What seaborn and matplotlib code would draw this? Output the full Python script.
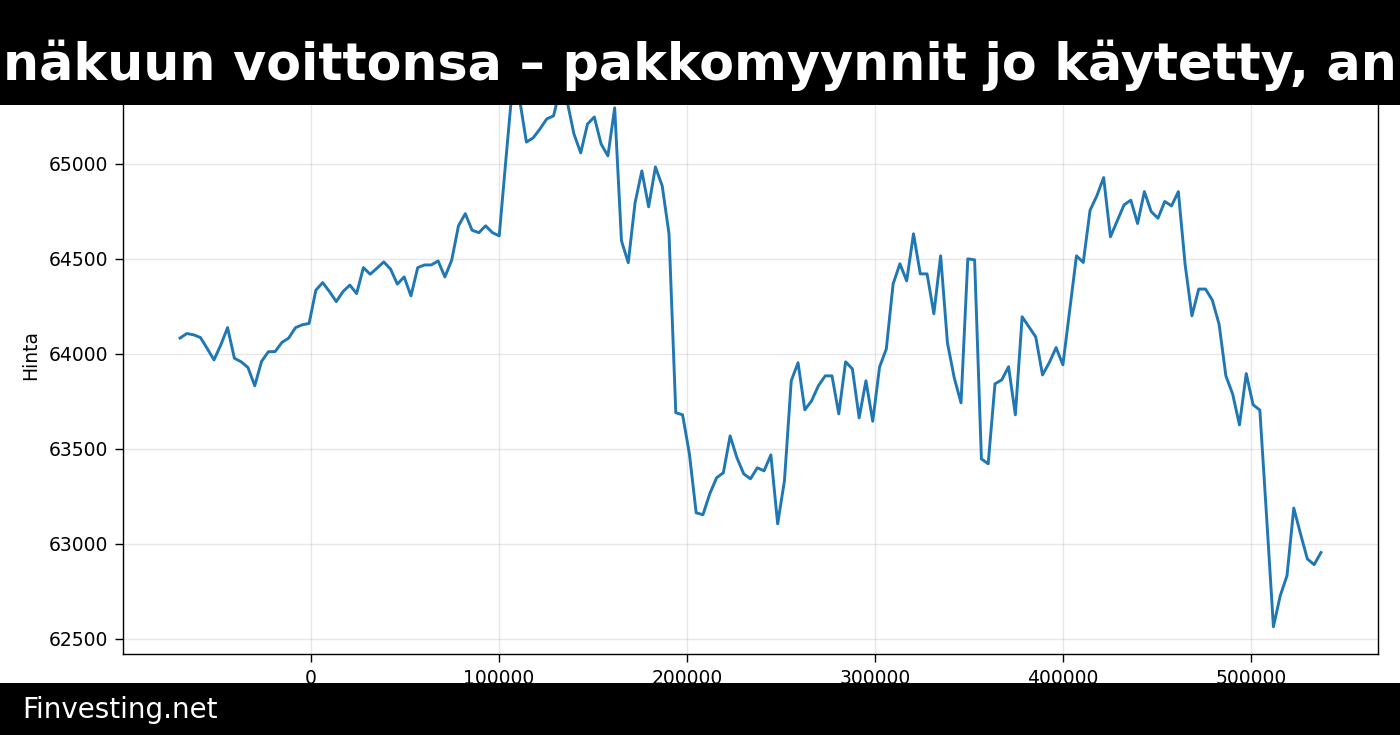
import numpy as np
import pandas as pd
import matplotlib
matplotlib.use("Agg")
import matplotlib.pyplot as plt
from matplotlib.patches import Rectangle
import seaborn as sns

# ---- data ----
x_start = -69400
x_step = 3610
prices = [
    64083, 64107, 64100, 64086, 64028, 63968, 64047, 64138, 63977, 63958,
    63928, 63832, 63960, 64011, 64012, 64060, 64083, 64138, 64153, 64160,
    64335, 64375, 64328, 64275, 64328, 64362, 64317, 64454, 64419, 64451,
    64484, 64446, 64367, 64405, 64305, 64454, 64468, 64468, 64489, 64405,
    64493, 64674, 64738, 64651, 64638, 64674, 64638, 64621, 65030, 65430,
    65340, 65115, 65137, 65184, 65237, 65253, 65400, 65330, 65158, 65058,
    65210, 65247, 65105, 65042, 65295, 64595, 64480, 64795, 64963, 64774,
    64984, 64884, 64632, 63690, 63679, 63474, 63163, 63153, 63263, 63347,
    63374, 63568, 63453, 63368, 63342, 63400, 63384, 63468, 63105, 63332,
    63858, 63953, 63705, 63753, 63832, 63884, 63884, 63684, 63958, 63921,
    63663, 63858, 63645, 63930, 64026, 64368, 64474, 64384, 64632, 64421,
    64421, 64211, 64516, 64058, 63874, 63742, 64500, 64495, 63447, 63421,
    63842, 63863, 63932, 63679, 64195, 64142, 64089, 63889, 63954, 64033,
    63942, 64230, 64516, 64481, 64756, 64832, 64928, 64616, 64700, 64784,
    64809, 64686, 64854, 64749, 64714, 64802, 64779, 64854, 64470, 64200,
    64341, 64341, 64283, 64156, 63884, 63788, 63626, 63896, 63732, 63704,
    63140, 62563, 62726, 62832, 63188, 63051, 62920, 62890, 62954,
]
xs = x_start + x_step * np.arange(len(prices))

y_ticks = [62500, 63000, 63500, 64000, 64500, 65000]
title_text = "näkuun voittonsa – pakkomyynnit jo käytetty, an"
footer_text = "Finvesting.net"
y_label = "Hinta"

df = pd.DataFrame({"x": xs, "Hinta": prices})

# ---- figure ----
plt.rcParams["font.family"] = ["DejaVu Sans"]
W, H = 1400, 735
fig = plt.figure(figsize=(W / 100, H / 100), dpi=100)
ax = fig.add_axes([123 / W, 81 / H, 1255 / W, 599 / H])

sns.lineplot(data=df, x="x", y="Hinta", ax=ax, color="#1f77b4", linewidth=2.1)

ax.set_yticks(y_ticks)
ax.grid(True, color="#b0b0b0", alpha=0.3, linewidth=1.0)
ax.set_axisbelow(True)
ax.set_xlabel("")
ax.set_ylabel(y_label, fontsize=13.5, labelpad=6)
ax.tick_params(axis="both", labelsize=13.5, length=5.5, width=1, pad=5)
for s in ax.spines.values():
    s.set_color("black")
    s.set_linewidth(1.0)

# top banner
fig.add_artist(Rectangle((0, 1 - 105 / H), 1, 105 / H, transform=fig.transFigure,
                         facecolor="black", edgecolor="none", zorder=10))
fig.text(3 / W, 1 - 80 / H, title_text, color="white", fontsize=36.5,
         fontweight="bold", ha="left", va="baseline", zorder=11)

# footer
fig.add_artist(Rectangle((0, 0), 1, 52 / H, transform=fig.transFigure,
                         facecolor="black", edgecolor="none", zorder=10))
fig.text(22 / W, (H - 718) / H, footer_text, color="white", fontsize=20,
         ha="left", va="baseline", zorder=11)

fig.savefig("out.png", dpi=100)
